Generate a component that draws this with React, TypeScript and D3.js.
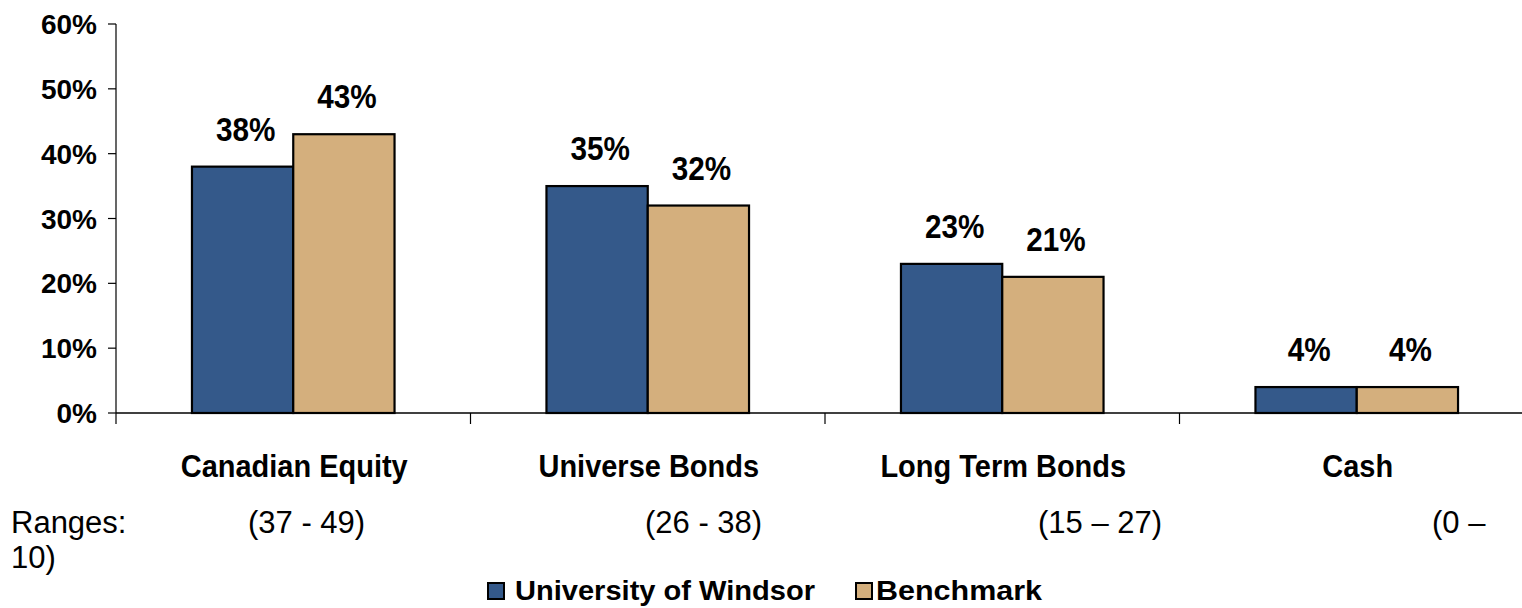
import React from "react";
import * as d3 from "d3";

const categories = ["Canadian Equity", "Universe Bonds", "Long Term Bonds", "Cash"];
const seriesNames = ["University of Windsor", "Benchmark"];
const windsorValues = [38, 35, 23, 4];
const benchmarkValues = [43, 32, 21, 4];
const yTicks = [0, 10, 20, 30, 40, 50, 60];
const rangeLabels = ["(37 - 49)", "(26 - 38)", "(15 \u2013 27)", "(0 \u2013"];
const rangeWrap = "10)";

const W = 1522;
const H = 608;
const colors = ["#34598A", "#D4AF7D"];
const FONT = "'Liberation Sans', Arial, Helvetica, sans-serif";

export default function App() {
  const left = 116;
  const step = 354.5;
  const x = d3
    .scaleBand<string>()
    .domain(categories)
    .range([left, left + step * categories.length])
    .paddingInner(0)
    .paddingOuter(0);
  const y = d3.scaleLinear().domain([0, 60]).range([413, 24]);
  const barW = x.bandwidth() / 3.5;
  const inner = d3
    .scaleBand<string>()
    .domain(seriesNames)
    .range([0, barW * 2]);
  const series = [windsorValues, benchmarkValues];

  const rangeX = [248, 645, 1038, 1432];

  return (
    <svg
      width={W}
      height={H}
      style={{ position: "absolute", left: 0, top: 0, background: "#fff" }}
      fontFamily={FONT}
    >
      <rect x={0} y={0} width={W} height={H} fill="#fff" />
      {/* y axis */}
      <line x1={left} x2={left} y1={y(60)} y2={424} stroke="#000" strokeWidth={1.2} />
      {yTicks.map((t) => (
        <g key={t}>
          <line x1={108} x2={left} y1={y(t)} y2={y(t)} stroke="#000" strokeWidth={1.2} />
          <text
            x={97}
            y={y(t) + 10}
            textAnchor="end"
            fontSize={28}
            fontWeight="bold"
            fill="#000"
          >
            {t + "%"}
          </text>
        </g>
      ))}
      {/* bars */}
      {categories.map((c, i) => {
        const x0 = x(c)! + (x.bandwidth() - barW * 2) / 2;
        return (
          <g key={c}>
            {seriesNames.map((s, j) => {
              const v = series[j][i];
              const bx = x0 + inner(s)!;
              const cx = bx + inner.bandwidth() / 2 + 3;
              return (
                <g key={s}>
                  <rect
                    x={bx}
                    y={y(v)}
                    width={inner.bandwidth()}
                    height={y(0) - y(v)}
                    fill={colors[j]}
                    stroke="#000"
                    strokeWidth={2.2}
                  />
                  <text
                    transform={`translate(${cx},${y(v) - 26}) scale(0.9,1)`}
                    textAnchor="middle"
                    fontSize={33}
                    fontWeight="bold"
                    fill="#000"
                  >
                    {v + "%"}
                  </text>
                </g>
              );
            })}
          </g>
        );
      })}
      {/* x axis */}
      <line x1={left} x2={W} y1={y(0)} y2={y(0)} stroke="#000" strokeWidth={1.4} />
      {categories.slice(1).map((c) => (
        <line key={c} x1={x(c)!} x2={x(c)!} y1={y(0)} y2={424} stroke="#000" strokeWidth={1.2} />
      ))}
      {categories.map((c) => (
        <text
          key={c}
          transform={`translate(${x(c)! + x.bandwidth() / 2 + 1},477) scale(0.92,1)`}
          textAnchor="middle"
          fontSize={31.5}
          fontWeight="bold"
          fill="#000"
        >
          {c}
        </text>
      ))}
      {/* ranges */}
      <text x={11} y={533} fontSize={31} fill="#000">
        Ranges:
      </text>
      {rangeLabels.map((r, i) => (
        <text key={r} x={rangeX[i]} y={533} fontSize={31} fill="#000">
          {r}
        </text>
      ))}
      <text x={11} y={568} fontSize={31} fill="#000">
        {rangeWrap}
      </text>
      {/* legend */}
      <rect x={488} y={583} width={16} height={16} fill={colors[0]} stroke="#000" strokeWidth={2} />
      <text x={515} y={600} fontSize={27} fontWeight="bold" fill="#000" textLength={300} lengthAdjust="spacingAndGlyphs">
        {seriesNames[0]}
      </text>
      <rect x={856} y={583} width={16} height={16} fill={colors[1]} stroke="#000" strokeWidth={2} />
      <text x={876} y={600} fontSize={27} fontWeight="bold" fill="#000" textLength={166} lengthAdjust="spacingAndGlyphs">
        {seriesNames[1]}
      </text>
    </svg>
  );
}
